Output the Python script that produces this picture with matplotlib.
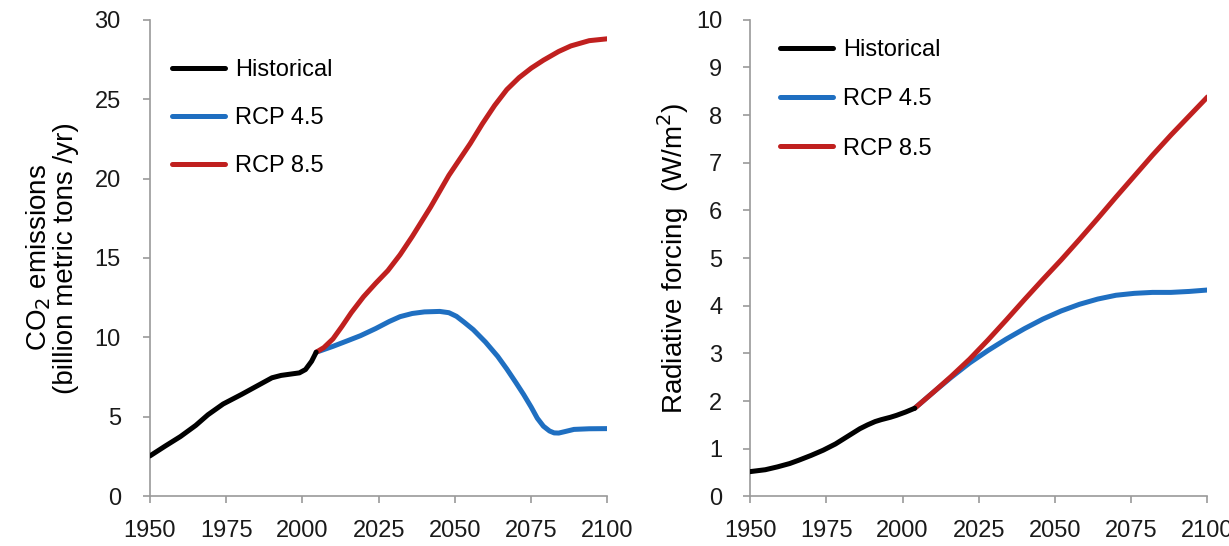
import matplotlib

matplotlib.use("Agg")
import matplotlib.pyplot as plt

plt.rcParams["font.family"] = ["Liberation Sans", "DejaVu Sans"]

# CO2 emissions (billion metric tons / yr)
hist_years = [1950, 1955, 1960, 1965, 1969, 1974, 1980, 1986, 1990, 1993, 1996, 1999, 2001, 2003, 2004.5]
hist_co2 = [2.53, 3.15, 3.75, 4.45, 5.12, 5.8, 6.4, 7.03, 7.45, 7.6, 7.68, 7.76, 7.97, 8.49, 9.06]

rcp85_years = [2004.5, 2007, 2010, 2013, 2016, 2020, 2024, 2028, 2032, 2036, 2042, 2048, 2055, 2059,
               2063, 2067, 2071, 2075, 2079, 2084, 2088, 2094, 2100]
rcp85_co2 = [9.06, 9.35, 9.9, 10.7, 11.55, 12.55, 13.4, 14.2, 15.2, 16.35, 18.2, 20.2, 22.2, 23.45,
             24.6, 25.6, 26.35, 26.95, 27.45, 28.0, 28.35, 28.68, 28.8]

rcp45_years = [2004.5, 2010, 2015, 2019, 2024, 2028.5, 2032, 2036, 2040, 2045, 2048, 2050.5, 2053, 2056,
               2060, 2064, 2067, 2070, 2072.5, 2075, 2077, 2079, 2081, 2082.5, 2084, 2086, 2089, 2094, 2100]
rcp45_co2 = [9.06, 9.43, 9.8, 10.1, 10.55, 11.0, 11.3, 11.5, 11.6, 11.63, 11.55, 11.32, 10.95, 10.48,
             9.7, 8.8, 8.0, 7.14, 6.4, 5.6, 4.9, 4.4, 4.1, 3.98, 3.97, 4.06, 4.2, 4.24, 4.25]

# Radiative forcing (W/m2)
hist_rf_years = [1950, 1955, 1959, 1963, 1966, 1970, 1974, 1978, 1982, 1986, 1988.5, 1991, 1993, 1996,
                 1998, 2001, 2004]
hist_rf = [0.52, 0.56, 0.62, 0.69, 0.76, 0.86, 0.97, 1.1, 1.26, 1.42, 1.5, 1.57, 1.61, 1.66, 1.7, 1.77, 1.85]

rf85_years = [2004, 2010, 2016, 2022, 2028, 2034, 2040, 2046, 2052, 2058, 2064, 2070, 2076, 2082, 2088,
              2094, 2100]
rf85 = [1.85, 2.18, 2.52, 2.88, 3.28, 3.7, 4.13, 4.55, 4.96, 5.39, 5.83, 6.28, 6.72, 7.16, 7.58, 7.98, 8.38]

rf45_years = [2004, 2010, 2016, 2022, 2028, 2034, 2040, 2046, 2052, 2058, 2064, 2070, 2076, 2082, 2088,
              2094, 2100]
rf45 = [1.85, 2.18, 2.5, 2.8, 3.06, 3.3, 3.52, 3.72, 3.89, 4.03, 4.14, 4.22, 4.26, 4.28, 4.28, 4.3, 4.33]

BLACK = "#000000"
BLUE = "#1f6fc1"
RED = "#c0201f"
GRAY = "#9a9a9a"
LW = 3.6


def style_axes(ax, ymax, ystep, ypad, leg_anchor, spacing):
    ax.set_xlim(1950, 2100)
    ax.set_ylim(0, ymax)
    ax.set_xticks(range(1950, 2101, 25))
    ax.set_yticks([i * ystep for i in range(int(ymax / ystep) + 1)])
    for side in ("top", "right"):
        ax.spines[side].set_visible(False)
    for side in ("left", "bottom"):
        ax.spines[side].set_color(GRAY)
        ax.spines[side].set_linewidth(1.2)
    ax.tick_params(direction="out", length=5, width=1.2, color=GRAY, labelsize=17,
                   labelcolor="#1a1a1a")
    ax.tick_params(axis="x", pad=12)
    ax.tick_params(axis="y", pad=ypad)
    ax.legend(loc="upper left", frameon=False, fontsize=17, handlelength=2.25,
              handletextpad=0.42, labelspacing=spacing, borderpad=0, borderaxespad=0,
              bbox_to_anchor=leg_anchor)


fig = plt.figure(figsize=(12.29, 5.46), dpi=100)
ax1 = fig.add_axes([0.1220, 0.0914, 0.3723, 0.8725])
ax2 = fig.add_axes([0.6103, 0.0908, 0.3722, 0.8731])

kw = dict(linewidth=LW, solid_capstyle="round", solid_joinstyle="round")
ax1.plot(hist_years, hist_co2, color=BLACK, label="Historical", zorder=3, **kw)
ax1.plot(rcp45_years, rcp45_co2, color=BLUE, label="RCP 4.5", **kw)
ax1.plot(rcp85_years, rcp85_co2, color=RED, label="RCP 8.5", **kw)
ax1.set_ylabel("CO$_2$ emissions\n(billion metric tons /yr)", fontsize=20, linespacing=1.0)
ax1.yaxis.set_label_coords(-0.155, 0.5)
style_axes(ax1, 30, 5, 16, (0.048, 0.917), 1.1)

ax2.plot(hist_rf_years, hist_rf, color=BLACK, label="Historical", zorder=3, **kw)
ax2.plot(rf45_years, rf45, color=BLUE, label="RCP 4.5", **kw)
ax2.plot(rf85_years, rf85, color=RED, label="RCP 8.5", **kw)
ax2.set_ylabel("Radiative forcing  (W/m$^2$)", fontsize=20)
ax2.yaxis.set_label_coords(-0.13, 0.5)
style_axes(ax2, 10, 1, 15, (0.066, 0.959), 1.15)

fig.savefig("out.png", dpi=100)
